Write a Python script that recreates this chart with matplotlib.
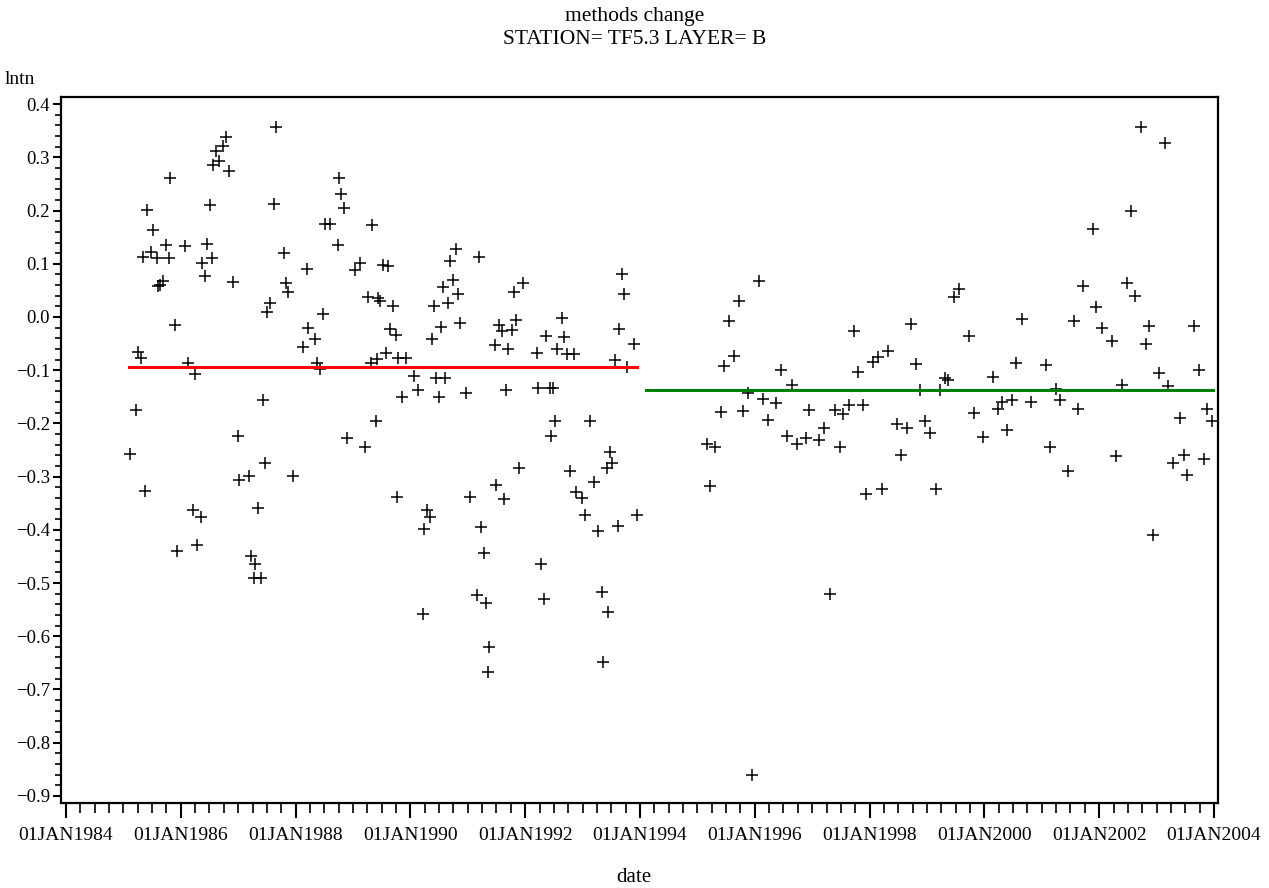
import numpy as np
import matplotlib
matplotlib.use('Agg')
import matplotlib.pyplot as plt
from matplotlib.ticker import FixedLocator, MultipleLocator, FuncFormatter

# observations before the method change (decimal year, lntn)
date_before = [1985.11, 1985.22, 1985.25, 1985.31, 1985.34, 1985.38, 1985.41, 1985.48,
               1985.52, 1985.59, 1985.60, 1985.64, 1985.69, 1985.74, 1985.79, 1985.81,
               1985.90, 1985.93, 1986.07, 1986.13, 1986.21, 1986.25, 1986.28, 1986.35,
               1986.37, 1986.42, 1986.46, 1986.51, 1986.54, 1986.56, 1986.61, 1986.67,
               1986.74, 1986.79, 1986.84, 1986.91, 1987.00, 1987.01, 1987.19, 1987.22,
               1987.29, 1987.28, 1987.34, 1987.40, 1987.43, 1987.47, 1987.50, 1987.55,
               1987.62, 1987.66, 1987.80, 1987.83, 1987.87, 1987.95, 1988.13, 1988.20,
               1988.22, 1988.34, 1988.37, 1988.43, 1988.48, 1988.51, 1988.60, 1988.74,
               1988.76, 1988.79, 1988.84, 1988.90, 1989.03, 1989.12, 1989.21, 1989.26,
               1989.31, 1989.33, 1989.40, 1989.42, 1989.44, 1989.47, 1989.52, 1989.57,
               1989.61, 1989.64, 1989.70, 1989.75, 1989.77, 1989.78, 1989.85, 1989.92,
               1990.06, 1990.13, 1990.22, 1990.24, 1990.29, 1990.34, 1990.38, 1990.41,
               1990.45, 1990.50, 1990.53, 1990.57, 1990.60, 1990.66, 1990.69, 1990.74,
               1990.79, 1990.83, 1990.86, 1990.97, 1991.04, 1991.16, 1991.20, 1991.23,
               1991.28, 1991.32, 1991.35, 1991.37, 1991.47, 1991.49, 1991.54, 1991.60,
               1991.63, 1991.67, 1991.70, 1991.77, 1991.80, 1991.84, 1991.89, 1991.96,
               1992.21, 1992.22, 1992.28, 1992.33, 1992.36, 1992.43, 1992.45, 1992.48,
               1992.52, 1992.55, 1992.64, 1992.68, 1992.73, 1992.78, 1992.85, 1992.89,
               1992.99, 1993.04, 1993.13, 1993.20, 1993.27, 1993.34, 1993.36, 1993.43,
               1993.44, 1993.48, 1993.51, 1993.56, 1993.62, 1993.63, 1993.69, 1993.72,
               1993.77, 1993.90, 1993.95]
lntn_before = [-0.257, -0.174, -0.065, -0.077, 0.113, -0.327, 0.201, 0.122,
               0.164, 0.111, 0.058, 0.061, 0.067, 0.135, 0.110, 0.261,
               -0.015, -0.439, 0.133, -0.086, -0.362, -0.108, -0.429, -0.375,
               0.102, 0.077, 0.138, 0.211, 0.111, 0.286, 0.312, 0.293,
               0.321, 0.338, 0.274, 0.066, -0.223, -0.306, -0.299, -0.450,
               -0.464, -0.490, -0.359, -0.490, -0.156, -0.274, 0.009, 0.027,
               0.213, 0.358, 0.120, 0.063, 0.047, -0.299, -0.057, 0.090,
               -0.020, -0.042, -0.086, -0.098, 0.005, 0.174, 0.174, 0.135,
               0.262, 0.232, 0.205, -0.227, 0.088, 0.102, -0.245, 0.037,
               -0.086, 0.172, -0.196, -0.079, 0.036, 0.031, 0.098, -0.068,
               0.095, -0.022, 0.020, -0.033, -0.338, -0.077, -0.151, -0.077,
               -0.110, -0.138, -0.559, -0.399, -0.362, -0.376, -0.041, 0.020,
               -0.115, -0.151, -0.018, 0.056, -0.115, 0.026, 0.105, 0.069,
               0.128, 0.043, -0.011, -0.143, -0.338, -0.523, 0.112, -0.394,
               -0.444, -0.538, -0.667, -0.620, -0.052, -0.316, -0.015, -0.026,
               -0.343, -0.138, -0.061, -0.025, 0.047, -0.005, -0.284, 0.063,
               -0.068, -0.133, -0.464, -0.531, -0.036, -0.133, -0.223, -0.133,
               -0.196, -0.061, -0.002, -0.038, -0.069, -0.289, -0.069, -0.329,
               -0.340, -0.372, -0.195, -0.310, -0.403, -0.516, -0.649, -0.284,
               -0.554, -0.253, -0.275, -0.080, -0.393, -0.023, 0.081, 0.044,
               -0.094, -0.051, -0.372]

# observations after the method change
date_after = [1995.17, 1995.22, 1995.31, 1995.41, 1995.46, 1995.55, 1995.64, 1995.73,
              1995.79, 1995.88, 1995.95, 1996.07, 1996.14, 1996.23, 1996.37, 1996.46,
              1996.56, 1996.65, 1996.74, 1996.89, 1996.94, 1997.12, 1997.21, 1997.31,
              1997.40, 1997.48, 1997.54, 1997.64, 1997.73, 1997.80, 1997.89, 1997.94,
              1998.06, 1998.15, 1998.22, 1998.32, 1998.48, 1998.55, 1998.65, 1998.72,
              1998.81, 1998.88, 1998.97, 1999.05, 1999.16, 1999.23, 1999.31, 1999.37,
              1999.47, 1999.56, 1999.73, 1999.82, 1999.98, 2000.15, 2000.24, 2000.31,
              2000.39, 2000.48, 2000.55, 2000.66, 2000.81, 2001.07, 2001.14, 2001.25,
              2001.32, 2001.46, 2001.56, 2001.63, 2001.72, 2001.89, 2001.94, 2002.05,
              2002.22, 2002.29, 2002.40, 2002.48, 2002.55, 2002.62, 2002.73, 2002.82,
              2002.87, 2002.94, 2003.04, 2003.15, 2003.20, 2003.29, 2003.41, 2003.48,
              2003.53, 2003.65, 2003.74, 2003.83, 2003.88, 2003.97]
lntn_after = [-0.239, -0.317, -0.244, -0.179, -0.093, -0.008, -0.074, 0.031,
              -0.176, -0.142, -0.860, 0.067, -0.155, -0.193, -0.162, -0.100,
              -0.223, -0.128, -0.239, -0.228, -0.174, -0.232, -0.209, -0.521,
              -0.174, -0.245, -0.183, -0.166, -0.027, -0.103, -0.166, -0.333,
              -0.085, -0.075, -0.323, -0.063, -0.201, -0.259, -0.209, -0.014,
              -0.088, -0.137, -0.196, -0.218, -0.323, -0.137, -0.115, -0.118,
              0.038, 0.052, -0.036, -0.180, -0.226, -0.113, -0.173, -0.160,
              -0.212, -0.156, -0.086, -0.004, -0.160, -0.090, -0.245, -0.135,
              -0.156, -0.290, -0.007, -0.172, 0.059, 0.165, 0.018, -0.020,
              -0.045, -0.261, -0.128, 0.064, 0.200, 0.039, 0.358, -0.050,
              -0.016, -0.410, -0.105, 0.327, -0.129, -0.274, -0.189, -0.259,
              -0.297, -0.016, -0.099, -0.266, -0.172, -0.195]

# period means drawn as horizontal segments
mean_before = -0.094
span_before = [1985.10, 1993.95]
mean_after = -0.137
span_after = [1994.11, 2003.98]

year_ticks = list(range(1984, 2005, 2))
year_labels = ['01JAN%d' % y for y in year_ticks]

plt.rcParams['font.family'] = ['Liberation Serif', 'DejaVu Serif']

fig = plt.figure(figsize=(12.69, 8.88), dpi=100)
ax = fig.add_axes([61/1269, 85/888, 1157/1269, 706/888])

ax.plot(date_before, lntn_before, '+', color='black', ms=9, mew=1.1)
ax.plot(date_after, lntn_after, '+', color='black', ms=9, mew=1.1)
ax.plot(span_before, [mean_before, mean_before], '-', color='#ff0000', lw=2.2)
ax.plot(span_after, [mean_after, mean_after], '-', color='#008000', lw=2.2)

ax.set_xlim(1983.913, 2004.07)
ax.set_ylim(-0.9135, 0.4135)

ax.xaxis.set_major_locator(FixedLocator(year_ticks))
ax.xaxis.set_minor_locator(MultipleLocator(0.25))
ax.set_xticklabels(year_labels)
ax.yaxis.set_major_locator(MultipleLocator(0.1))
ax.yaxis.set_minor_locator(MultipleLocator(0.02))
ax.yaxis.set_major_formatter(FuncFormatter(
    lambda v, p: ('%.1f' % v).replace('-', '\u2212') if abs(v) > 1e-9 else '0.0'))

for s in ax.spines.values():
    s.set_linewidth(1.6)
ax.tick_params(axis='both', which='major', direction='out', width=1.5,
               colors='black')
ax.tick_params(axis='y', which='major', length=6, pad=2, labelsize=13.5)
ax.tick_params(axis='y', which='minor', length=4, width=1.2)
ax.tick_params(axis='x', which='major', length=11, pad=6, labelsize=14)
ax.tick_params(axis='x', which='minor', length=7, width=1.2)

fig.text(0.5, 1 - 17/888, 'methods change', ha='center', va='center', fontsize=15.5)
fig.text(0.5, 1 - 40/888, 'STATION= TF5.3 LAYER= B', ha='center', va='center', fontsize=15.5)
fig.text(5/1269, 1 - 79/888, 'lntn', ha='left', va='center', fontsize=14)
fig.text(634/1269, 1 - 877/888, 'date', ha='center', va='center', fontsize=15)

fig.savefig('out.png', dpi=100)
